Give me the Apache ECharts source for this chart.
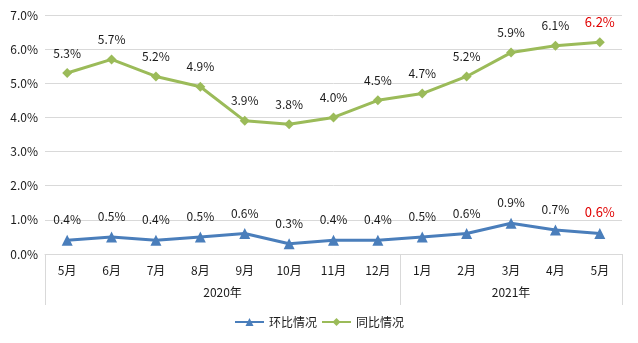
<!DOCTYPE html>
<html>
<head>
<meta charset="utf-8">
<script src="https://cdn.jsdelivr.net/npm/echarts@6/dist/echarts.min.js"></script>
<style>
html,body{margin:0;padding:0;background:#fff;}
#chart{width:638px;height:343px;}
</style>
</head>
<body>
<div id="chart"></div>
<script>
// Month categories and the year groups they belong to
const months = ['5月','6月','7月','8月','9月','10月','11月','12月','1月','2月','3月','4月','5月'];
const yearNames = ['2020年','2021年'];
const yearBounds = [0, 8, 13];          // category index where each year group starts/ends

// Price change, percent
const momValues = [0.4, 0.5, 0.4, 0.5, 0.6, 0.3, 0.4, 0.4, 0.5, 0.6, 0.9, 0.7, 0.6];   // 环比
const yoyValues = [5.3, 5.7, 5.2, 4.9, 3.9, 3.8, 4.0, 4.5, 4.7, 5.2, 5.9, 6.1, 6.2];   // 同比

const FONT = '"Noto Sans CJK SC", "Microsoft YaHei", sans-serif';
const TEXT = '#1a1a1a';
const GRID_LINE = '#d9d9d9';
const HIGHLIGHT = '#e00000';

// Latest month's label is highlighted in red
function withLastHighlighted(values) {
  return values.map((v, i) => i === values.length - 1
    ? { value: v, label: { color: HIGHLIGHT, fontSize: 13 } }
    : v);
}

// Year label positions: centre of each group
const yearCenters = yearNames.map((_, i) => (yearBounds[i] + yearBounds[i + 1]) / 2);

const chart = echarts.init(document.getElementById('chart'), null, { renderer: 'canvas' });
chart.setOption({
  animation: false,
  textStyle: { fontFamily: FONT },
  grid: { left: 45, right: 16, top: 15, bottom: 89 },
  legend: {
    bottom: 10,
    left: 'center',
    itemWidth: 29,
    itemHeight: 10,
    itemGap: 4,
    textStyle: { fontFamily: FONT, fontSize: 12, color: TEXT },
    data: ['环比情况', '同比情况']
  },
  xAxis: [
    {
      type: 'category',
      data: months,
      boundaryGap: true,
      axisLine: { lineStyle: { color: GRID_LINE } },
      axisTick: { show: false },
      axisLabel: { color: TEXT, fontSize: 12, fontFamily: FONT, margin: 10, interval: 0 }
    },
    {
      type: 'value',
      position: 'bottom',
      min: 0,
      max: months.length,
      axisLine: { show: false },
      splitLine: { show: false },
      axisTick: {
        show: true,
        customValues: yearBounds,
        length: 51,
        lineStyle: { color: GRID_LINE }
      },
      axisLabel: {
        customValues: yearCenters,
        margin: 32,
        color: TEXT,
        fontSize: 12,
        fontFamily: FONT,
        formatter: v => {
          const idx = yearCenters.indexOf(v);
          return idx >= 0 ? yearNames[idx] : '';
        }
      }
    }
  ],
  yAxis: {
    type: 'value',
    min: 0,
    max: 7,
    interval: 1,
    axisLine: { show: false },
    axisTick: { show: false },
    splitLine: { lineStyle: { color: GRID_LINE } },
    axisLabel: {
      color: TEXT, fontSize: 12, fontFamily: FONT, margin: 7,
      formatter: v => v.toFixed(1) + '%'
    }
  },
  series: [
    {
      name: '环比情况',
      type: 'line',
      xAxisIndex: 0,
      data: withLastHighlighted(momValues),
      symbol: 'triangle',
      symbolSize: 11,
      lineStyle: { width: 3, color: '#4a7ebb' },
      itemStyle: { color: '#4a7ebb' },
      label: {
        show: true, position: 'top', distance: 9,
        color: TEXT, fontSize: 12, fontFamily: FONT,
        formatter: p => p.value.toFixed(1) + '%'
      }
    },
    {
      name: '同比情况',
      type: 'line',
      xAxisIndex: 0,
      data: withLastHighlighted(yoyValues),
      symbol: 'diamond',
      symbolSize: 10,
      lineStyle: { width: 3, color: '#9bbb59' },
      itemStyle: { color: '#9bbb59' },
      label: {
        show: true, position: 'top', distance: 9,
        color: TEXT, fontSize: 12, fontFamily: FONT,
        formatter: p => p.value.toFixed(1) + '%'
      }
    }
  ]
});
</script>
</body>
</html>
